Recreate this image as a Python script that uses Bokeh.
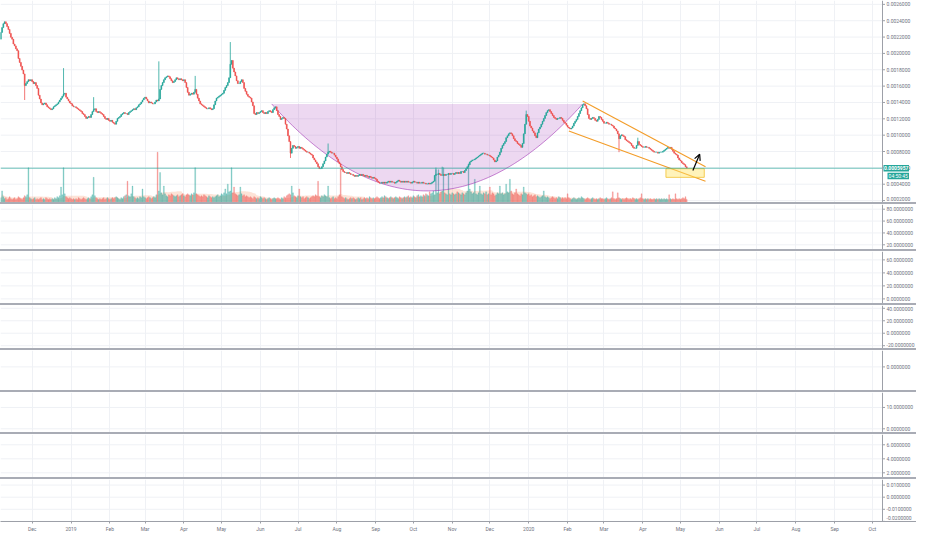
import numpy as np
import pandas as pd
from bokeh.plotting import figure
from bokeh.layouts import column
from bokeh.models import (Range1d, FixedTicker, Span, Arrow, OpenHead, ColumnDataSource,
                          Div, CustomJSTickFormatter)
from bokeh.core.properties import value
from bokeh.embed import file_html
from bokeh.resources import INLINE

# ---------------- data ----------------
START_DATE = "2018-11-06"
PRICE_UNIT = 1e-6          # closes / wicks below are in millionths
OPEN_FIRST = 2174

closes = [
    2257, 2316, 2364, 2387, 2364, 2328, 2293, 2245, 2198, 2174,
    2115, 2092, 2056, 2033, 1938, 1890, 1843, 1796, 1749, 1607,
    1631, 1655, 1678, 1666, 1678, 1655, 1631, 1643, 1607, 1572,
    1489, 1442, 1394, 1371, 1383, 1394, 1371, 1347, 1335, 1323,
    1312, 1323, 1347, 1359, 1371, 1383, 1406, 1430, 1453, 1477,
    1501, 1513, 1465, 1442, 1418, 1394, 1383, 1359, 1347, 1347,
    1335, 1323, 1312, 1300, 1288, 1264, 1252, 1229, 1205, 1217,
    1229, 1217, 1252, 1288, 1312, 1323, 1288, 1276, 1288, 1276,
    1264, 1252, 1229, 1205, 1193, 1205, 1181, 1170, 1181, 1158,
    1146, 1134, 1170, 1205, 1217, 1229, 1252, 1264, 1276, 1264,
    1264, 1252, 1276, 1288, 1300, 1312, 1323, 1312, 1335, 1347,
    1371, 1383, 1406, 1430, 1453, 1465, 1442, 1418, 1394, 1406,
    1394, 1383, 1383, 1406, 1430, 1418, 1442, 1560, 1607, 1643,
    1678, 1702, 1714, 1725, 1714, 1690, 1666, 1643, 1655, 1678,
    1702, 1690, 1678, 1690, 1678, 1666, 1678, 1643, 1583, 1524,
    1489, 1501, 1513, 1501, 1524, 1560, 1501, 1453, 1418, 1383,
    1371, 1359, 1347, 1335, 1323, 1323, 1335, 1323, 1312, 1323,
    1371, 1418, 1453, 1465, 1477, 1489, 1501, 1513, 1548, 1583,
    1607, 1643, 1702, 1867, 1914, 1820, 1773, 1725, 1666, 1631,
    1631, 1655, 1678, 1643, 1572, 1536, 1501, 1477, 1465, 1453,
    1406, 1359, 1264, 1252, 1276, 1264, 1276, 1288, 1300, 1276,
    1264, 1276, 1264, 1288, 1300, 1288, 1276, 1312, 1335, 1347,
    1300, 1252, 1229, 1193, 1205, 1217, 1205, 1134, 1075, 992,
    921, 780, 839, 874, 862, 839, 851, 862, 839, 851,
    839, 827, 815, 803, 792, 792, 780, 768, 756, 721,
    697, 673, 650, 614, 591, 591, 614, 650, 685, 732,
    768, 792, 803, 792, 780, 780, 756, 732, 709, 673,
    650, 614, 579, 555, 543, 543, 532, 543, 532, 520,
    520, 508, 496, 508, 496, 508, 520, 508, 520, 508,
    496, 508, 496, 484, 496, 484, 473, 484, 473, 461,
    437, 425, 413, 413, 425, 413, 425, 413, 425, 437,
    425, 437, 425, 425, 413, 425, 437, 449, 437, 425,
    437, 425, 437, 425, 437, 425, 425, 413, 425, 437,
    425, 425, 413, 425, 413, 413, 425, 413, 413, 402,
    402, 413, 402, 413, 425, 437, 508, 520, 520, 532,
    520, 508, 508, 520, 508, 520, 520, 532, 520, 532,
    532, 520, 532, 543, 532, 543, 532, 555, 555, 543,
    567, 591, 614, 638, 673, 685, 697, 697, 709, 721,
    732, 744, 756, 768, 780, 780, 768, 768, 756, 756,
    744, 732, 721, 697, 673, 685, 732, 756, 792, 839,
    874, 898, 921, 969, 992, 1016, 1028, 1016, 992, 957,
    933, 921, 898, 886, 874, 851, 898, 1016, 1134, 1252,
    1229, 1170, 1111, 1087, 1052, 1028, 992, 969, 1028, 1075,
    1099, 1134, 1170, 1205, 1240, 1276, 1300, 1312, 1288, 1264,
    1240, 1217, 1205, 1193, 1205, 1205, 1217, 1205, 1181, 1158,
    1146, 1122, 1099, 1087, 1075, 1087, 1111, 1146, 1170, 1193,
    1229, 1264, 1300, 1335, 1371, 1383, 1359, 1323, 1252, 1205,
    1193, 1205, 1217, 1205, 1181, 1170, 1193, 1229, 1217, 1193,
    1170, 1146, 1146, 1158, 1146, 1134, 1134, 1122, 1111, 1087,
    1075, 1052, 1016, 957, 992, 1004, 992, 981, 945, 933,
    921, 910, 898, 874, 851, 839, 839, 874, 921, 886,
    874, 862, 851, 851, 862, 851, 851, 839, 827, 815,
    803, 792, 792, 792, 780, 792, 792, 792, 803, 815,
    827, 839, 851, 839, 851, 827, 803, 780, 768, 756,
    721, 697, 685, 662, 650, 638, 614, 596,
]

# notable wicks: (day index, price in millionths)
wick_highs = [(50, 1820), (74, 1465), (126, 1903), (155, 1725), (183, 2139),
              (261, 898), (347, 603), (352, 614), (419, 1300), (508, 969)]
wick_lows = [(19, 1430), (231, 721), (493, 792)]

volumes = [
    5, 12, 6, 4, 5, 3, 4, 6, 4, 3,
    4, 5, 3, 4, 6, 5, 4, 3, 5, 7,
    6, 8, 36, 5, 4, 3, 4, 5, 3, 4,
    3, 4, 5, 3, 4, 3, 5, 4, 3, 4,
    3, 4, 3, 5, 4, 6, 5, 7, 16, 8,
    36, 9, 6, 5, 4, 5, 4, 3, 4, 3,
    4, 3, 5, 4, 3, 4, 5, 4, 3, 4,
    5, 4, 6, 8, 26, 7, 5, 4, 3, 4,
    3, 4, 5, 3, 4, 5, 4, 3, 4, 5,
    4, 5, 6, 5, 4, 3, 5, 4, 6, 7,
    8, 22, 7, 6, 9, 17, 6, 5, 4, 5,
    4, 6, 5, 14, 6, 5, 4, 5, 6, 5,
    4, 5, 6, 5, 8, 52, 12, 31, 10, 8,
    17, 9, 7, 6, 8, 7, 9, 8, 7, 6,
    7, 8, 6, 7, 8, 9, 7, 6, 8, 9,
    8, 7, 9, 8, 10, 36, 9, 8, 7, 6,
    7, 6, 8, 7, 6, 5, 7, 6, 5, 6,
    5, 6, 7, 8, 6, 7, 9, 8, 10, 14,
    9, 19, 11, 12, 36, 10, 16, 9, 8, 7,
    8, 16, 9, 7, 8, 6, 7, 6, 5, 6,
    5, 4, 6, 5, 4, 5, 4, 6, 5, 4,
    5, 4, 3, 4, 5, 4, 3, 4, 5, 4,
    4, 5, 4, 3, 5, 4, 6, 5, 7, 8,
    9, 8, 17, 10, 7, 6, 5, 7, 14, 6,
    5, 6, 4, 5, 6, 5, 4, 5, 6, 7,
    6, 8, 7, 22, 6, 5, 7, 6, 8, 7,
    6, 17, 5, 4, 5, 6, 4, 5, 4, 6,
    8, 35, 6, 5, 4, 5, 4, 3, 4, 5,
    4, 5, 4, 3, 4, 5, 4, 5, 3, 4,
    5, 4, 5, 4, 6, 5, 4, 5, 4, 5,
    6, 5, 4, 5, 6, 5, 7, 6, 5, 4,
    5, 6, 5, 4, 5, 6, 5, 4, 6, 5,
    4, 5, 6, 5, 6, 7, 5, 6, 5, 7,
    6, 5, 7, 8, 6, 7, 6, 8, 7, 9,
    8, 7, 11, 9, 10, 12, 8, 34, 10, 34,
    9, 11, 12, 36, 10, 9, 8, 30, 9, 8,
    10, 9, 8, 9, 11, 10, 9, 8, 10, 9,
    8, 10, 12, 40, 14, 11, 9, 10, 24, 9,
    8, 10, 17, 9, 8, 10, 9, 11, 8, 9,
    16, 8, 10, 9, 7, 8, 10, 9, 17, 9,
    10, 8, 9, 19, 11, 10, 24, 12, 9, 8,
    10, 14, 9, 8, 7, 9, 8, 16, 10, 9,
    8, 9, 7, 8, 6, 7, 8, 6, 7, 6,
    5, 6, 7, 12, 6, 5, 6, 5, 4, 5,
    6, 5, 4, 5, 4, 6, 5, 4, 5, 4,
    5, 4, 9, 5, 4, 3, 4, 5, 4, 3,
    4, 5, 4, 6, 5, 4, 3, 4, 5, 4,
    3, 4, 5, 4, 3, 4, 3, 4, 5, 4,
    4, 3, 4, 5, 4, 3, 4, 5, 11, 4,
    3, 4, 10, 5, 4, 3, 4, 3, 4, 5,
    4, 3, 4, 3, 5, 4, 3, 4, 3, 4,
    5, 9, 4, 3, 4, 3, 4, 3, 4, 3,
    3, 4, 3, 4, 3, 4, 3, 4, 3, 4,
    3, 4, 3, 8, 4, 3, 4, 3, 9, 4,
    3, 4, 3, 4, 5, 4, 6, 3,
]

LAST_PRICE = 0.0005957
COUNTDOWN = "04:50:45"

price_ticks = [0.0002, 0.0004, 0.0006, 0.0008, 0.0010, 0.0012, 0.0014,
               0.0016, 0.0018, 0.0020, 0.0022, 0.0024, 0.0026]
pane_ticks = [
    [20, 40, 60, 80],
    [0, 20, 40, 60],
    [-20, 0, 20, 40],
    [0],
    [0, 10],
    [2, 4, 6],
    [-0.02, -0.01, 0.0, 0.01],
]

# drawings (anchor dates / prices)
cup_dates = ["2019-06-10", "2019-10-12", "2020-02-13"]   # left rim, bottom, right rim
cup_prices = [0.001382, 0.000318, 0.001382]
chan_up_dates = ["2020-02-13", "2020-05-21"]
chan_up_prices = [0.001418, 0.000614]
chan_lo_dates = ["2020-02-02", "2020-05-21"]
chan_lo_prices = [0.001051, 0.000437]
zone_dates = ["2020-04-19 10:00", "2020-05-20"]
zone_prices = [0.000484, 0.000590]
arrow_dates = ["2020-05-10 22:00", "2020-05-16 08:00"]
arrow_prices = [0.000567, 0.000767]

# ---------------- build ----------------
def ms(s):
    return pd.Timestamp(s).value / 1e6

DAY = 86400000.0
n = min(len(closes), len(volumes))
dates = pd.date_range(START_DATE, periods=n, freq="D")
t = np.array([d.value / 1e6 for d in dates])
c = np.array(closes[:n], dtype=float) * PRICE_UNIT
o = np.concatenate([[OPEN_FIRST * PRICE_UNIT], c[:-1]])
hi = np.maximum(o, c)
lo = np.minimum(o, c)
for i, v in wick_highs:
    if i < n:
        hi[i] = max(hi[i], v * PRICE_UNIT)
for i, v in wick_lows:
    if i < n:
        lo[i] = min(lo[i], v * PRICE_UNIT)
UP, DOWN = "#26a69a", "#ef5350"
col = [UP if cc >= oo else DOWN for oo, cc in zip(o, c)]
vol = np.array(volumes[:n], dtype=float)
vol_ma = pd.Series(vol).rolling(20, min_periods=1).mean().values

src = ColumnDataSource(dict(t=t, o=o, c=c, hi=hi, lo=lo, top=np.maximum(o, c),
                            bot=np.minimum(o, c), col=col, vol=vol, ma=vol_ma))

W = 916          # total width
FRAME = 882      # chart area width; the rest is the price scale
X_START = ms("2018-11-05 17:30")
X_END = ms("2020-10-09 03:20")
PX = (X_END - X_START) / FRAME          # ms per screen pixel
X_FULL = X_END + (W - FRAME) * PX
xr = Range1d(start=X_START, end=X_FULL)
month_ticks = [d.value / 1e6 for d in pd.date_range("2018-12-01", "2020-10-01", freq="MS")]

GRID = "#eff1f5"
AXC = "#9da0a8"
TXT = "#6f7380"
FONT = "Roboto"


def pane(h, y0, y1, ticks, bottom=False):
    p = figure(width=W, height=h, x_range=xr, y_range=Range1d(y0, y1),
               x_axis_type="datetime", x_axis_location="below" if bottom else None,
               y_axis_location=None, toolbar_location=None, output_backend="svg",
               min_border_left=0, min_border_right=0, min_border_top=0,
               min_border_bottom=13 if bottom else 0)
    p.outline_line_color = None
    p.ygrid.visible = False
    p.xgrid.ticker = FixedTicker(ticks=month_ticks)
    p.xgrid.grid_line_color = GRID
    frame_h = h - (13 if bottom else 0)
    unit = (y1 - y0) / frame_h
    # horizontal grid (chart area only)
    p.segment(x0=X_START, x1=X_END, y0=ticks, y1=ticks, line_color=GRID, line_width=1)
    # price scale: axis line, ticks and labels (labels kept inside the pane)
    p.add_layout(Span(location=X_END, dimension="height", line_color=AXC, line_width=1))
    p.segment(x0=X_END, x1=X_END + 2.5 * PX, y0=ticks, y1=ticks, line_color=AXC, line_width=1)
    label_y = [min(max(v, y0 + 3.2 * unit), y1 - 3.2 * unit) for v in ticks]
    p.text(x=X_END + 4 * PX, y=label_y, text=[f"{v:.7f}" for v in ticks],
           text_font=value(FONT), text_font_size="5px", text_color=TXT,
           text_baseline="middle", text_align="left")
    if bottom:
        xa = p.xaxis[0]
        xa.ticker = FixedTicker(ticks=month_ticks)
        xa.formatter = CustomJSTickFormatter(code="""
            const d = new Date(tick);
            const m = d.getUTCMonth();
            const names = ['Jan','Feb','Mar','Apr','May','Jun','Jul','Aug','Sep','Oct','Nov','Dec'];
            return m == 0 ? String(d.getUTCFullYear()) : names[m];
        """)
        xa.axis_line_color = AXC
        xa.major_tick_line_color = AXC
        xa.major_tick_out = 2
        xa.major_tick_in = 0
        xa.minor_tick_line_color = None
        xa.major_label_standoff = 2
        xa.major_label_text_font_size = "5px"
        xa.major_label_text_font = FONT
        xa.major_label_text_color = TXT
    return p


# main price pane
P1_LO, P1_HI = 0.0001763, 0.0026473
P1_H = 202
p1 = pane(P1_H, P1_LO, P1_HI, price_ticks)
PY = (P1_HI - P1_LO) / P1_H             # price per screen pixel
p1.extra_y_ranges = {"vol": Range1d(0, 209)}
p1.varea(x="t", y1=0, y2="ma", source=src, y_range_name="vol",
         fill_color="#f79a6e", fill_alpha=0.28)
p1.vbar(x="t", width=DAY * 0.75, top="vol", bottom=0, source=src, y_range_name="vol",
        fill_color="col", line_color="col", fill_alpha=0.5, line_alpha=0.5, line_width=0.4)

# cup (quadratic curve through the three anchors)
ct = [ms(d) for d in cup_dates]
tt = np.linspace(0, 1, 120)
cx = 2 * ct[1] - 0.5 * (ct[0] + ct[2])
cy = 2 * cup_prices[1] - 0.5 * (cup_prices[0] + cup_prices[2])
bx = (1 - tt) ** 2 * ct[0] + 2 * (1 - tt) * tt * cx + tt ** 2 * ct[2]
by = (1 - tt) ** 2 * cup_prices[0] + 2 * (1 - tt) * tt * cy + tt ** 2 * cup_prices[2]
p1.patch(list(bx), list(by), fill_color="#9c27b0", fill_alpha=0.18, line_color=None)
p1.line(list(bx), list(by), line_color="#9c27b0", line_alpha=0.7, line_width=0.8)

# candles
p1.segment(x0="t", y0="hi", x1="t", y1="lo", source=src, line_color="col", line_width=0.8)
p1.vbar(x="t", width=DAY * 0.72, top="top", bottom="bot", source=src,
        fill_color="col", line_color="col", line_width=0.5)

# channel
ORANGE = "#f39c28"
p1.line([ms(d) for d in chan_up_dates], chan_up_prices, line_color=ORANGE, line_width=1.1)
p1.line([ms(d) for d in chan_lo_dates], chan_lo_prices, line_color=ORANGE, line_width=1.1)
# zone
p1.quad(left=ms(zone_dates[0]), right=ms(zone_dates[1]), bottom=zone_prices[0], top=zone_prices[1],
        fill_color="#ffe566", fill_alpha=0.45, line_color="#f2c230", line_width=0.8)
# arrow
p1.add_layout(Arrow(end=OpenHead(size=6, line_color="black", line_width=1.2),
                    x_start=ms(arrow_dates[0]), y_start=arrow_prices[0],
                    x_end=ms(arrow_dates[1]), y_end=arrow_prices[1],
                    line_color="black", line_width=1.2))
# last price line & price-scale tags
p1.segment(x0=X_START, x1=X_END, y0=LAST_PRICE, y1=LAST_PRICE, line_color="#26a69a",
           line_alpha=0.75, line_width=0.9)
COUNT_Y = LAST_PRICE - 7.8 * PY
p1.quad(left=X_END + 1 * PX, right=X_END + 26.5 * PX,
        bottom=LAST_PRICE - 3.3 * PY, top=LAST_PRICE + 3.3 * PY,
        fill_color="#26a69a", line_color=None)
p1.quad(left=X_END + 5 * PX, right=X_END + 26.5 * PX,
        bottom=COUNT_Y - 3.2 * PY, top=COUNT_Y + 3.2 * PY,
        fill_color="#26a69a", line_color=None)
p1.text(x=X_END + 13.75 * PX, y=LAST_PRICE, text=[f"{LAST_PRICE:.7f}"],
        text_font=value(FONT), text_font_size="5px", text_color="white",
        text_font_style="bold", text_baseline="middle", text_align="center")
p1.text(x=X_END + 15.75 * PX, y=COUNT_Y, text=[COUNTDOWN],
        text_font=value(FONT), text_font_size="5px", text_color="white",
        text_baseline="middle", text_align="center")

heights = [45, 52, 43, 40, 40, 43]
ranges = [(12.1, 87.9), (-7.1, 72.9), (-24.5, 44.5), (-0.59, 0.41), (-1.74, 17.0), (1.33, 7.47)]
panes = [p1]
for k in range(6):
    panes.append(pane(heights[k], ranges[k][0], ranges[k][1], pane_ticks[k]))
panes.append(pane(55, -0.0201, 0.01462, pane_ticks[6], bottom=True))

children = []
for k, p in enumerate(panes):
    children.append(p)
    if k < len(panes) - 1:
        children.append(Div(width=W, height=2, margin=0,
                            styles={"background-color": "#a9acb5"}))

layout = column(children, spacing=0)
open("out.html", "w").write(file_html(layout, INLINE, title="chart"))
